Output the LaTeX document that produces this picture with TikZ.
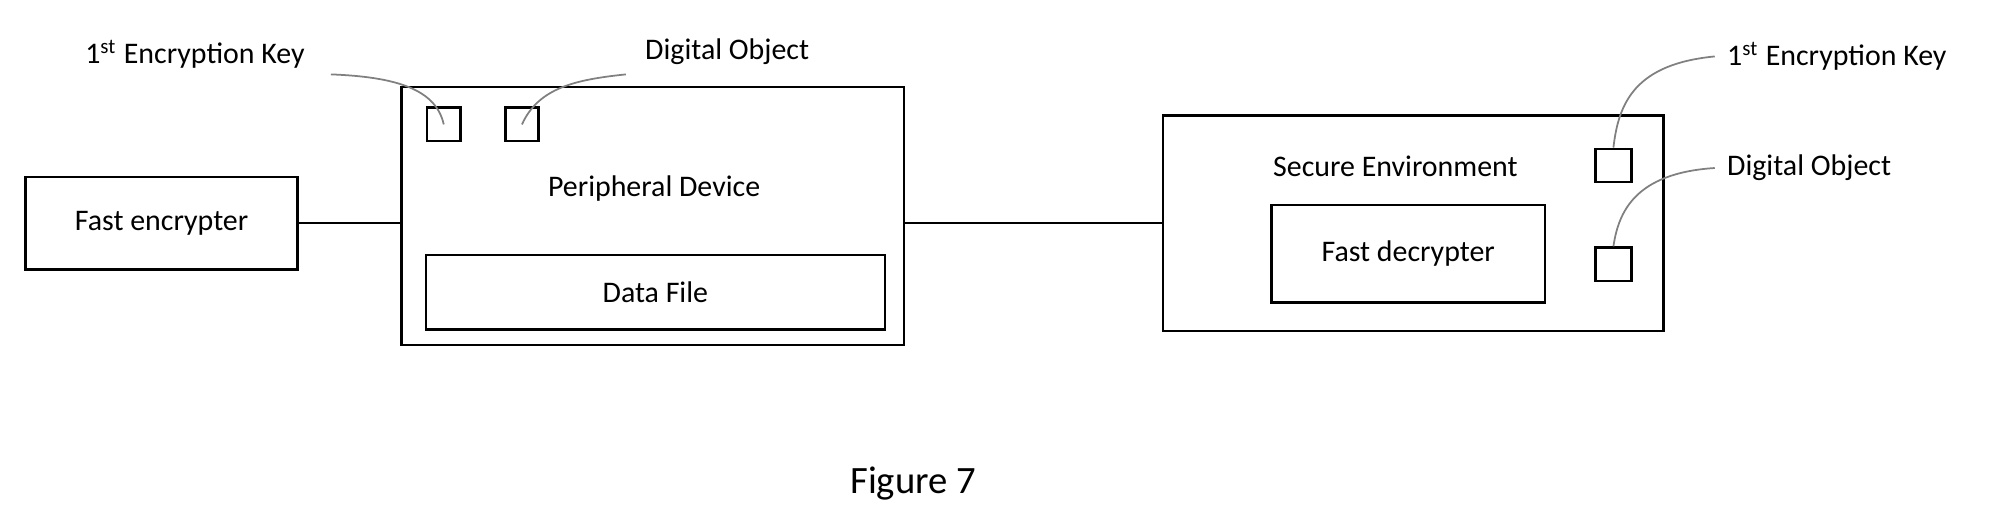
\documentclass[tikz,border=0pt]{standalone}
\usepackage{fontspec}
\setmainfont{Carlito}
\usetikzlibrary{positioning}
\begin{document}
\begin{tikzpicture}[x=0.012825cm,y=-0.012825cm,font=\fontsize{8.5pt}{10pt}\selectfont]
\useasboundingbox (0,0) rectangle (1568,410);
\tikzset{blk/.style={rectangle,draw,line width=0.7pt,inner sep=0pt},
  lead/.style={draw=gray,line width=0.5pt}}
% Left side
\node[blk,minimum width=212*0.012825cm,minimum height=72*0.012825cm] (encrypter) at (126,174) {Fast encrypter};
\node[blk,minimum width=392*0.012825cm,minimum height=201*0.012825cm] (peripheral) at (509,168.5) {};
\node (peripheraltext) at (510,147) {Peripheral Device};
\node[blk,minimum width=358*0.012825cm,minimum height=58*0.012825cm] (datafile) at (511,228) {Data File};
\node[blk,minimum width=26*0.012825cm,minimum height=26*0.012825cm] (keyA) at (346,97) {};
\node[blk,minimum width=26*0.012825cm,minimum height=26*0.012825cm] (objA) at (407,97) {};
\node (keyAlabel) at (152,42) {1\textsuperscript{st} Encryption Key};
\node (objAlabel) at (567,40) {Digital Object};
% Right side
\node[blk,minimum width=390*0.012825cm,minimum height=168*0.012825cm] (secure) at (1102,174) {};
\node (securetext) at (1088,130) {Secure Environment};
\node[blk,minimum width=213*0.012825cm,minimum height=76*0.012825cm] (decrypter) at (1098,198) {Fast decrypter};
\node[blk,minimum width=28*0.012825cm,minimum height=26*0.012825cm] (keyB) at (1258,129) {};
\node[blk,minimum width=28*0.012825cm,minimum height=26*0.012825cm] (objB) at (1258,206) {};
\node[anchor=west] (keyBlabel) at (1337,44) {1\textsuperscript{st} Encryption Key};
\node[anchor=west] (objBlabel) at (1337,131) {Digital Object};
\node[font=\fontsize{11pt}{13pt}\selectfont] (caption) at (712,377) {Figure 7};
% Connectors
\draw[line width=0.7pt] (encrypter.east) -- (peripheral.west |- encrypter);
\draw[line width=0.7pt] (peripheral.east |- encrypter) -- (secure.west |- encrypter);
% Leaders
\coordinate (kA) at (258,58);
\coordinate (oA) at (488,58);
\path[lead] (kA) .. controls (310,60) and (340,70) .. (keyA.center);
\path[lead] (oA) .. controls (450,62) and (420,68) .. (objA.center);
\path[lead] (keyB.north) .. controls (1262,80) and (1275,50) .. (keyBlabel.west);
\path[lead] (objB.north) .. controls (1262,165) and (1275,135) .. (objBlabel.west);
\end{tikzpicture}
\end{document}
